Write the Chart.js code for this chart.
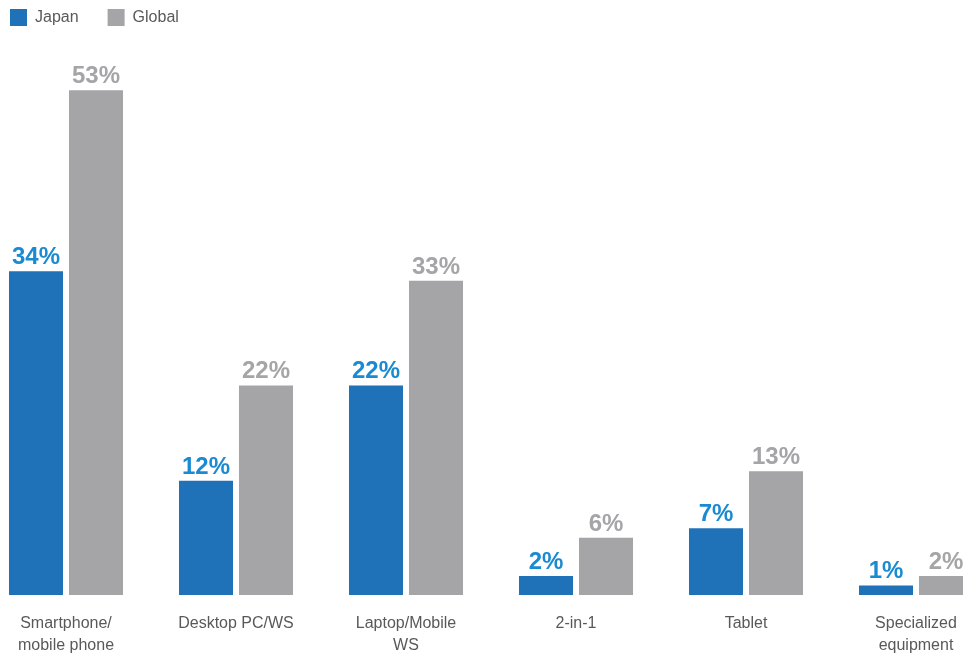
<!DOCTYPE html>
<html><head><meta charset="utf-8">
<script src="https://cdn.jsdelivr.net/npm/chart.js@4.4.1/dist/chart.umd.min.js"></script>
<style>
html,body{margin:0;padding:0;overflow:hidden;background:#fff;width:963px;height:656px;position:relative;}
#wrap{position:absolute;left:-19px;top:-20px;width:1020px;height:695px;}
canvas{display:block;}
</style></head><body>
<div id="wrap"><canvas id="c" width="1020" height="695" style="width:1020px;height:695px"></canvas></div>
<script>
const categories = [["Smartphone/","mobile phone"], "Desktop PC/WS", ["Laptop/Mobile","WS"], "2-in-1", "Tablet", ["Specialized","equipment"]];
const seriesNames = ["Japan", "Global"];
const japanValues = [34, 12, 22, 2, 7, 1];
const globalValues = [53, 22, 33, 6, 13, 2];

const FONT = '"Liberation Sans", Arial, Helvetica, sans-serif';

const valueLabels = {
  id: 'valueLabels',
  afterDatasetsDraw(chart) {
    const ctx = chart.ctx;
    chart.data.datasets.forEach((ds, i) => {
      const meta = chart.getDatasetMeta(i);
      meta.data.forEach((bar, j) => {
        ctx.save();
        ctx.font = 'bold 24px ' + FONT;
        ctx.fillStyle = ds.labelColor;
        ctx.textAlign = 'center';
        ctx.textBaseline = 'alphabetic';
        ctx.fillText(ds.data[j] + '%', bar.x, bar.y - 7);
        ctx.restore();
      });
    });
  }
};

new Chart(document.getElementById('c'), {
  type: 'bar',
  data: {
    labels: categories,
    datasets: [
      { label: seriesNames[0], data: japanValues, backgroundColor: '#1f72b8', labelColor: '#1a8ad2',
        categoryPercentage: 0.706, barPercentage: 0.9 },
      { label: seriesNames[1], data: globalValues, backgroundColor: '#a5a5a8', labelColor: '#a5a5a8',
        categoryPercentage: 0.706, barPercentage: 0.9 }
    ]
  },
  options: {
    responsive: false,
    animation: false,
    devicePixelRatio: 1,
    layout: { padding: 0 },
    plugins: {
      legend: {
        display: true,
        position: 'top',
        align: 'start',
        labels: {
          boxWidth: 17, boxHeight: 17, padding: 29,
          color: '#595959',
          font: { family: FONT, size: 16 }
        }
      },
      tooltip: { enabled: false }
    },
    scales: {
      x: {
        offset: true,
        grid: { display: false, drawTicks: false },
        border: { display: false },
        ticks: {
          color: '#595959',
          padding: 18,
          maxRotation: 0,
          autoSkip: false,
          font: { family: FONT, size: 16, lineHeight: 1.375 }
        }
      },
      y: {
        display: false,
        min: 0,
        max: 58.7
      }
    }
  },
  plugins: [valueLabels]
});
</script>
</body></html>
